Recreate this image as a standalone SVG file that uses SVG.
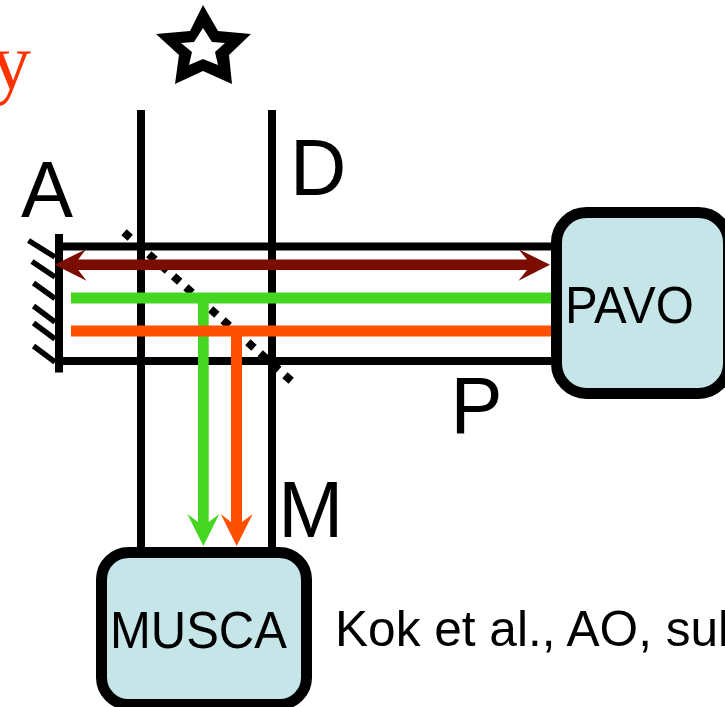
<svg xmlns="http://www.w3.org/2000/svg" width="725" height="707" viewBox="0 0 725 707">
<style>
.lbl{font-family:"Liberation Sans",Arial,sans-serif;fill:#000}
.big{font-size:78px}
.box{font-size:49px}
.bx{fill:#c5e5e8;stroke:#000;stroke-width:11}
.blk{stroke:#000;stroke-width:8;fill:none}
.hatch{stroke:#000;stroke-width:5.500;fill:none}
</style>
<rect width="725" height="707" fill="#fff"/>
<text x="31" y="89" text-anchor="end" style="font-family:'Liberation Serif',serif;font-size:80px;fill:#ff3300">y</text>
<g id="star">
<path fill-rule="evenodd" d="M203 5L218 31L251 34L229 55L232 84L203 71L175 84L179 55L156 34L190 31ZM203 28L194 42L181 43L192 52L189 65L203 59L218 65L215 52L225 43L212 42Z" fill="#000"/>
</g>
<g id="connectors">
<path class="blk" d="M141 110V548M272 110V548M60 246.500H555M60 361H555M59 234V372.500"/>
<path class="hatch" d="M28.500 240.500L55 257M32 261.500L55 277M33.500 283L55 298.500M33.500 306L55 322M33.500 323L55 339M33.500 346L55 362"/>
<line x1="124" y1="232.300" x2="292" y2="381.500" stroke="#000" stroke-width="8" stroke-dasharray="8.300 8.260"/>
<path fill="#7a0c00" d="M54.500 264.700L86 249.200L78.300 259.400H527L518.500 249.200L550 264.700L518.500 280.700L527 270H78.300L86.500 280.700Z"/>
<path fill="#44d621" d="M71 292.500H552V303.500H208.700V522L219.300 514L203.400 546L187.300 514L198 522V303.500H71Z"/>
<path fill="#ff5000" d="M71 325.500H552V336.500H242V522L252.700 514L236.700 546L220.700 514L231 522V336.500H71Z"/>
</g>
<g id="pavo">
<rect class="bx" x="556.500" y="212.500" width="172" height="181" rx="30"/>
<text class="lbl box" transform="translate(565 323) scale(1 1.04)">PAVO</text>
</g>
<g id="musca">
<rect class="bx" x="101.500" y="552.500" width="205" height="152" rx="27"/>
<text class="lbl box" transform="translate(110 648) scale(1 1.04)">MUSCA</text>
</g>
<g id="labels">
<text class="lbl big" transform="translate(21 217) scale(1 1.03)">A</text>
<text class="lbl big" transform="translate(290 194.500) scale(1 1.02)">D</text>
<text class="lbl big" transform="translate(450.500 432.700) scale(1 1.02)">P</text>
<text class="lbl big" transform="translate(278.200 536.500) scale(1 1.02)">M</text>
<text class="lbl" style="font-size:49.600px" transform="translate(335 646) scale(1 1.02)">Kok et al., AO, sul</text>
</g>
</svg>
